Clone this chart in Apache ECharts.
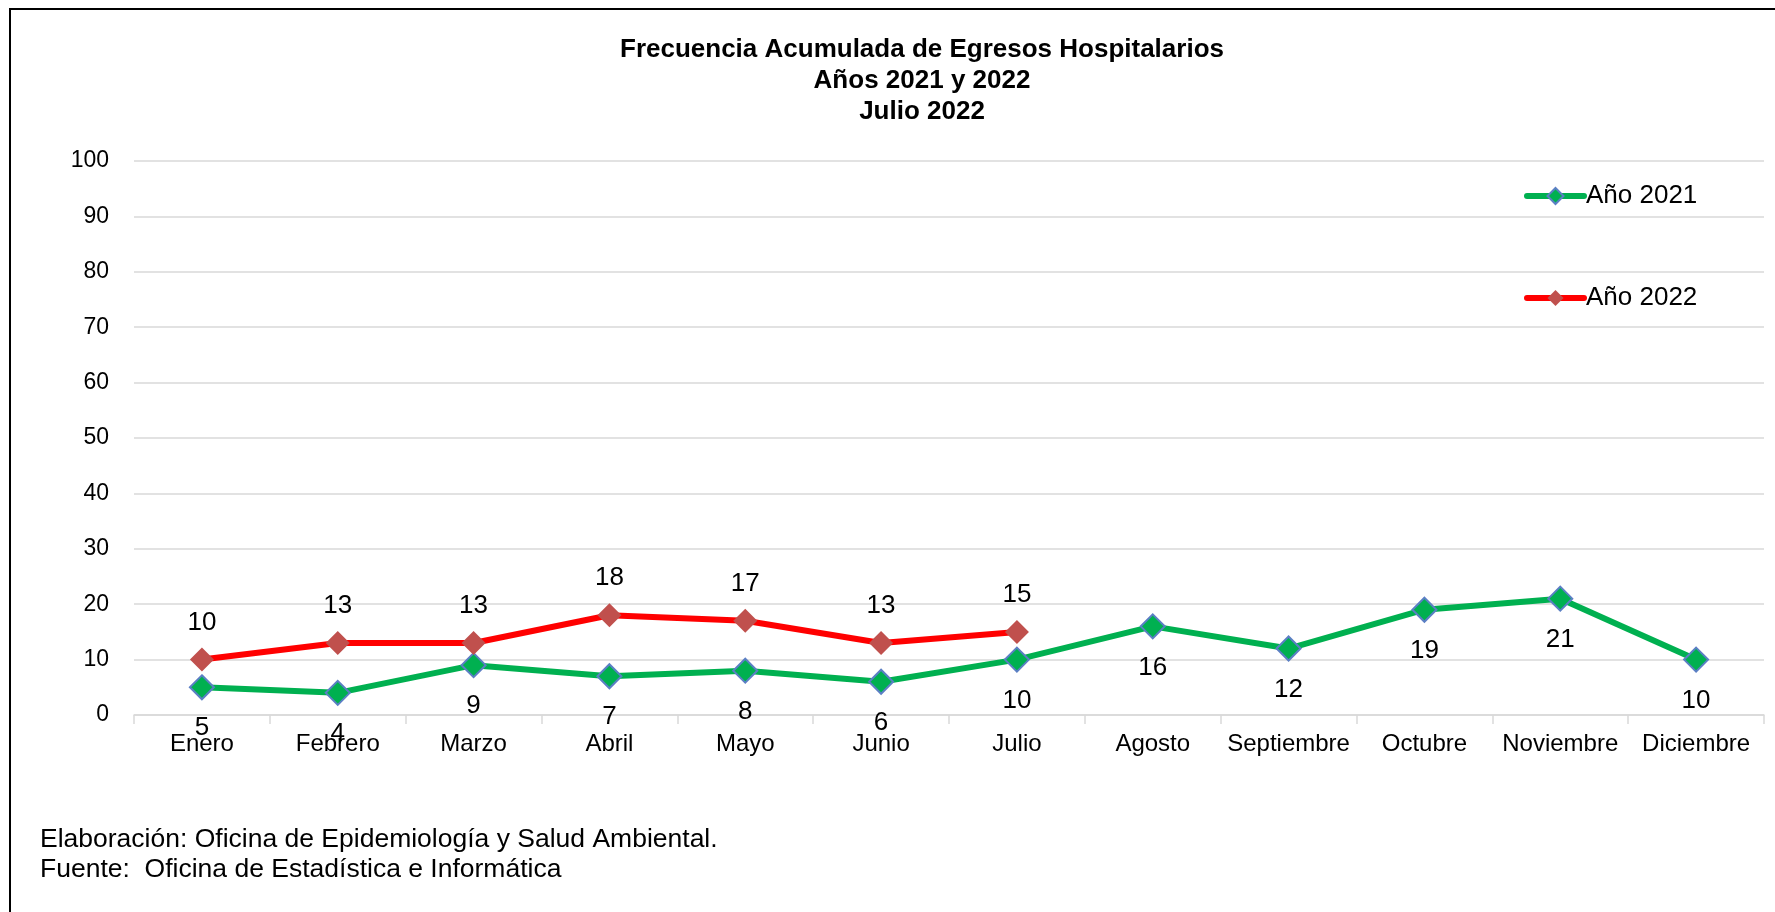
<!DOCTYPE html>
<html>
<head>
<meta charset="utf-8">
<script src="https://cdn.jsdelivr.net/npm/echarts@6/dist/echarts.min.js"></script>
<style>
html, body { margin: 0; padding: 0; background: #fff; }
#main { width: 1775px; height: 912px; }
</style>
</head>
<body>
<div id="main"></div>
<script>
// meses
var meses = ['Enero', 'Febrero', 'Marzo', 'Abril', 'Mayo', 'Junio', 'Julio',
	'Agosto', 'Septiembre', 'Octubre', 'Noviembre', 'Diciembre'];
// egresos acumulados
var anio2021 = [5, 4, 9, 7, 8, 6, 10, 16, 12, 19, 21, 10];
var anio2022 = [10, 13, 13, 18, 17, 13, 15];

var fuente = 'Liberation Sans, Arial, sans-serif';

var myChart = echarts.init(document.getElementById('main'));

var option = {
	backgroundColor : '#fff',
	animation : false,
	textStyle : {
		fontFamily : fuente
	},
	title : {
		text : 'Frecuencia Acumulada de Egresos Hospitalarios\nAños 2021 y 2022\nJulio 2022',
		left : 917,
		textAlign : 'center',
		top : 29,
		textStyle : {
			fontSize : 26,
			fontWeight : 'bold',
			color : '#000',
			lineHeight : 31
		}
	},
	legend : {
		orient : 'vertical',
		left : 1519,
		top : 178,
		itemWidth : 57,
		itemHeight : 20,
		itemGap : 76,
		textStyle : {
			fontSize : 26,
			color : '#000',
			padding : [ 0, 0, 0, -3 ]
		},
		data : [ {
			name : 'Año 2021',
			lineStyle : { width : 6, cap : 'round' }
		}, {
			name : 'Año 2022',
			lineStyle : { width : 6, cap : 'round' }
		} ]
	},
	grid : {
		left : 134,
		right : 11,
		top : 161,
		bottom : 197
	},
	xAxis : {
		type : 'category',
		data : meses,
		boundaryGap : true,
		axisLine : {
			lineStyle : { color : '#D9D9D9', width : 1.5 }
		},
		axisTick : {
			show : true,
			length : 9,
			lineStyle : { color : '#D9D9D9', width : 1.5 }
		},
		axisLabel : {
			interval : 0,
			fontSize : 24,
			color : '#000',
			margin : 17
		}
	},
	yAxis : {
		type : 'value',
		min : 0,
		max : 100,
		interval : 10,
		axisLine : { show : false },
		axisTick : { show : false },
		axisLabel : {
			fontSize : 23,
			color : '#000',
			margin : 25
		},
		splitLine : {
			lineStyle : { color : '#D9D9D9', width : 1.5 }
		}
	},
	series : [ {
		name : 'Año 2021',
		type : 'line',
		data : anio2021,
		symbol : 'diamond',
		symbolSize : 24,
		z : 3,
		lineStyle : { color : '#00B050', width : 6 },
		itemStyle : { color : '#00B050', borderColor : '#5B7FC4', borderWidth : 2 },
		label : {
			show : true,
			position : 'bottom',
			distance : 15,
			fontSize : 26,
			color : '#000'
		}
	}, {
		name : 'Año 2022',
		type : 'line',
		data : anio2022,
		symbol : 'diamond',
		symbolSize : 24,
		z : 4,
		lineStyle : { color : '#FF0000', width : 6 },
		itemStyle : { color : '#C0504D', borderWidth : 0 },
		label : {
			show : true,
			position : 'top',
			distance : 12,
			fontSize : 26,
			color : '#000'
		}
	} ],
	graphic : [ {
		type : 'rect',
		shape : { x : 10, y : 9, width : 1800, height : 1000 },
		style : { fill : 'none', stroke : '#000', lineWidth : 2 },
		silent : true
	}, {
		type : 'text',
		left : 40,
		top : 825,
		style : {
			text : 'Elaboración: Oficina de Epidemiología y Salud Ambiental.\nFuente:  Oficina de Estadística e Informática',
			font : '26.5px ' + fuente,
			lineHeight : 30,
			fill : '#000'
		}
	} ]
};

myChart.setOption(option);
</script>
</body>
</html>
